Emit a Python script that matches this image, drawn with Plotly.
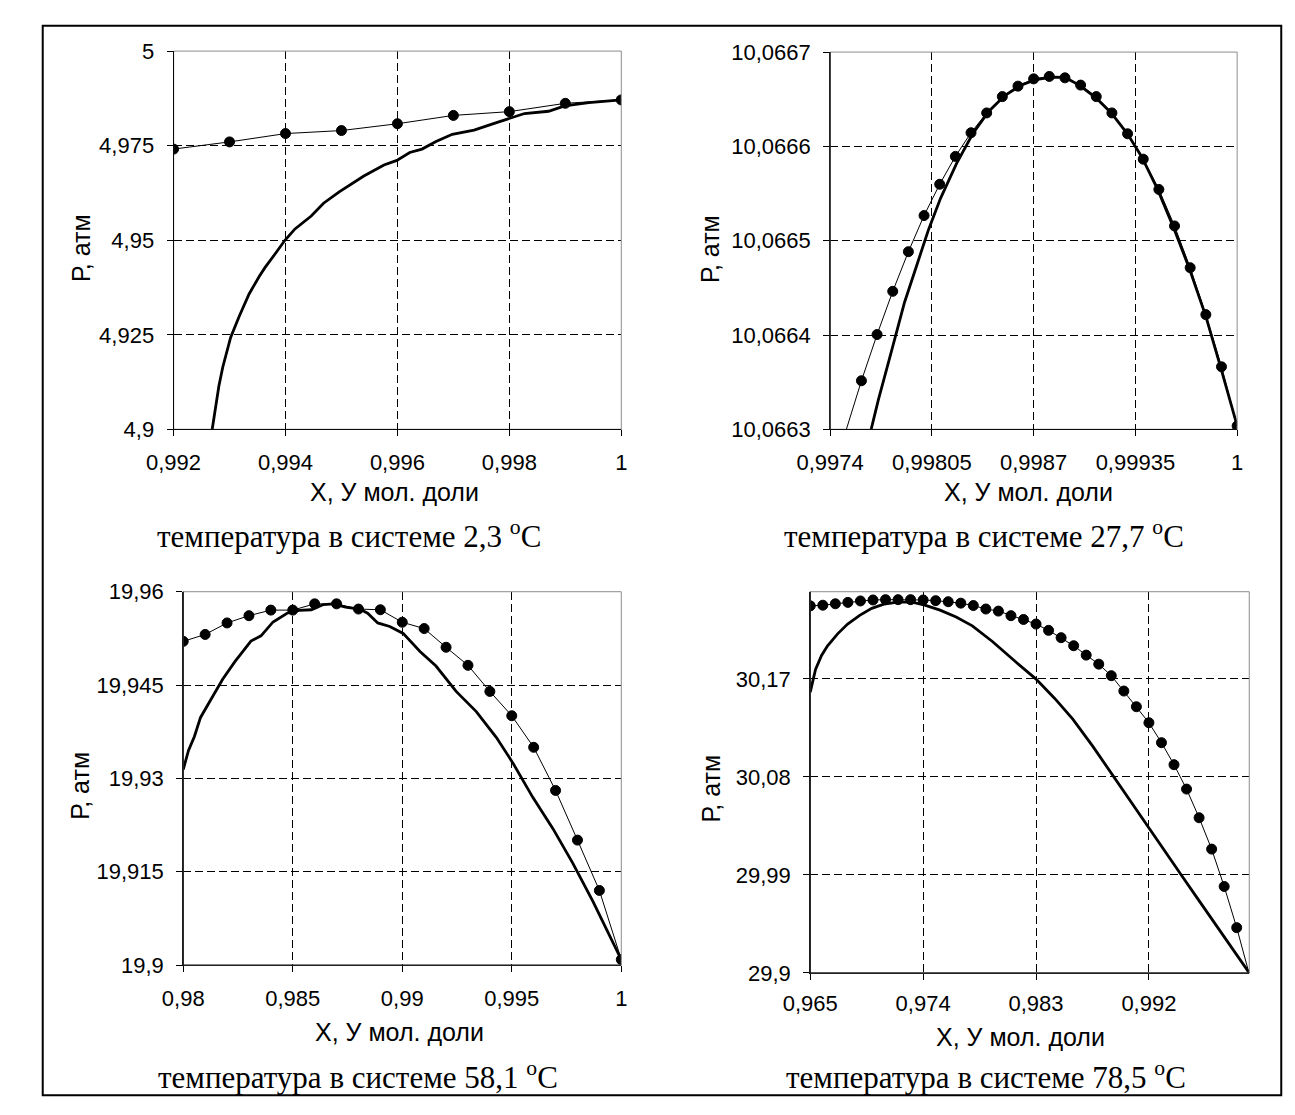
import plotly.graph_objects as go

W, H = 1295, 1115

# ---------------- data ----------------
# Panel 1: 2,3 °C
p1_mark_x = [0.992, 0.993, 0.994, 0.995, 0.996, 0.997, 0.998, 0.999, 1.0]
p1_mark_y = [4.9741, 4.9760, 4.9782, 4.9790, 4.9808, 4.9830, 4.9840, 4.9862, 4.9871]
p1_curve_x = [0.99269, 0.99281, 0.99288, 0.99302, 0.99317, 0.99335, 0.99353, 0.99363,
              0.99381, 0.99399, 0.99417, 0.99446, 0.99468, 0.99496, 0.99540, 0.99576,
              0.99599, 0.99622, 0.99644, 0.99669, 0.99698, 0.99737, 0.99773, 0.99800,
              0.99827, 0.99870, 0.99899, 0.99942, 1.0]
p1_curve_y = [4.9000, 4.9115, 4.9165, 4.9243, 4.9298, 4.9358, 4.9404, 4.9427,
              4.9463, 4.9500, 4.9530, 4.9564, 4.9598, 4.9628, 4.9670, 4.9699,
              4.9711, 4.9732, 4.9741, 4.9761, 4.9780, 4.9791, 4.9809, 4.9823,
              4.9835, 4.9841, 4.9855, 4.9864, 4.9871]
p1_xticks = [0.992, 0.994, 0.996, 0.998, 1.0]
p1_xlabels = ["0,992", "0,994", "0,996", "0,998", "1"]
p1_yticks = [4.9, 4.925, 4.95, 4.975, 5.0]
p1_ylabels = ["4,9", "4,925", "4,95", "4,975", "5"]

# Panel 2: 27,7 °C
p2_mark_x = [0.9975, 0.9976, 0.9977, 0.9978, 0.9979, 0.9980, 0.9981, 0.9982, 0.9983,
             0.9984, 0.9985, 0.9986, 0.9987, 0.9988, 0.9989, 0.9990, 0.9991, 0.9992,
             0.9993, 0.9994, 0.9995, 0.9996, 0.9997, 0.9998, 0.9999, 1.0]
p2_mark_y = [10.0662980, 10.0663516, 10.0664006, 10.0664464, 10.0664884, 10.0665267,
             10.0665599, 10.0665894, 10.0666145, 10.0666355, 10.0666528, 10.0666639,
             10.0666716, 10.0666742, 10.0666727, 10.0666650, 10.0666528, 10.0666355,
             10.0666134, 10.0665865, 10.0665544, 10.0665157, 10.0664714, 10.0664217,
             10.0663664, 10.0663037]
p2_curve_x = [0.997662, 0.997708, 0.997798, 0.997875, 0.997952, 0.998029, 0.998106,
              0.998208, 0.998311, 0.998414, 0.998516, 0.998619, 0.998722, 0.998824,
              0.998901, 0.998991, 0.999094, 0.999196, 0.999299, 0.999389, 0.999492,
              0.999594, 0.999697, 0.999800, 0.999897, 1.0]
p2_curve_y = [10.0663000, 10.0663313, 10.0663866, 10.0664346, 10.0664733, 10.0665120,
              10.0665452, 10.0665820, 10.0666134, 10.0666373, 10.0666539, 10.0666650,
              10.0666712, 10.0666735, 10.0666731, 10.0666650, 10.0666521, 10.0666355,
              10.0666134, 10.0665894, 10.0665544, 10.0665138, 10.0664696, 10.0664198,
              10.0663645, 10.0663037]
p2_xticks = [0.9974, 0.99805, 0.9987, 0.99935, 1.0]
p2_xlabels = ["0,9974", "0,99805", "0,9987", "0,99935", "1"]
p2_yticks = [10.0663, 10.0664, 10.0665, 10.0666, 10.0667]
p2_ylabels = ["10,0663", "10,0664", "10,0665", "10,0666", "10,0667"]

# Panel 3: 58,1 °C
p3_mark_x = [0.980, 0.981, 0.982, 0.983, 0.984, 0.985, 0.986, 0.987, 0.988, 0.989, 0.990,
             0.991, 0.992, 0.993, 0.994, 0.995, 0.996, 0.997, 0.998, 0.999, 1.0]
p3_mark_y = [19.95202, 19.95313, 19.95498, 19.95615, 19.95704, 19.95704, 19.95805,
             19.95805, 19.95721, 19.95710, 19.95509, 19.95408, 19.95107, 19.94817,
             19.94398, 19.94007, 19.93500, 19.92807, 19.92009, 19.91200, 19.90089]
p3_curve_x = [0.98000, 0.98024, 0.98051, 0.98079, 0.98125, 0.98180, 0.98235, 0.98309,
              0.98355, 0.98410, 0.98474, 0.98529, 0.98585, 0.98640, 0.98686, 0.98741,
              0.98805, 0.98842, 0.98888, 0.98943, 0.99004, 0.99081, 0.99154, 0.99246,
              0.99338, 0.99430, 0.99504, 0.99596, 0.99688, 0.99779, 0.99871, 1.0]
p3_curve_y = [19.93142, 19.93449, 19.93673, 19.93980, 19.94259, 19.94593, 19.94873,
              19.95207, 19.95291, 19.95514, 19.95654, 19.95699, 19.95710, 19.95793,
              19.95805, 19.95754, 19.95721, 19.95654, 19.95498, 19.95442, 19.95330,
              19.95040, 19.94806, 19.94398, 19.94074, 19.93656, 19.93254, 19.92696,
              19.92193, 19.91635, 19.91021, 19.90089]
p3_xticks = [0.98, 0.985, 0.99, 0.995, 1.0]
p3_xlabels = ["0,98", "0,985", "0,99", "0,995", "1"]
p3_yticks = [19.9, 19.915, 19.93, 19.945, 19.96]
p3_ylabels = ["19,9", "19,915", "19,93", "19,945", "19,96"]

# Panel 4: 78,5 °C
p4_mark_x = [0.965, 0.966, 0.967, 0.968, 0.969, 0.970, 0.971, 0.972, 0.973, 0.974,
             0.975, 0.976, 0.977, 0.978, 0.979, 0.980, 0.981, 0.982, 0.983, 0.984,
             0.985, 0.986, 0.987, 0.988, 0.989, 0.990, 0.991, 0.992, 0.993, 0.994,
             0.995, 0.996, 0.997, 0.998, 0.999, 1.0]
p4_mark_y = [30.2370, 30.2376, 30.2389, 30.2402, 30.2415, 30.2424, 30.2427, 30.2427,
             30.2427, 30.2424, 30.2418, 30.2408, 30.2395, 30.2373, 30.2341, 30.2322,
             30.2280, 30.2245, 30.2203, 30.2145, 30.2078, 30.2004, 30.1918, 30.1835,
             30.1729, 30.1588, 30.1444, 30.1297, 30.1114, 30.0912, 30.0688, 30.0425,
             30.0137, 29.9794, 29.9416, 29.8990]
p4_curve_x = [0.96500, 0.96542, 0.96590, 0.96638, 0.96718, 0.96798, 0.96894, 0.96990,
              0.97087, 0.97199, 0.97311, 0.97407, 0.97535, 0.97663, 0.97792, 0.97952,
              0.98144, 0.98298, 0.98449, 0.98593, 0.98753, 0.98913, 0.99074, 0.99202,
              0.99330, 0.99458, 0.99587, 0.99715, 1.0]
p4_curve_y = [30.1578, 30.1787, 30.1915, 30.2004, 30.2113, 30.2203, 30.2283, 30.2347,
              30.2386, 30.2405, 30.2405, 30.2379, 30.2331, 30.2267, 30.2187, 30.2043,
              30.1850, 30.1700, 30.1520, 30.1330, 30.1080, 30.0810, 30.0540, 30.0325,
              30.0110, 29.9900, 29.9685, 29.9470, 29.9000]
p4_xticks = [0.965, 0.974, 0.983, 0.992]
p4_xlabels = ["0,965", "0,974", "0,983", "0,992"]
p4_yticks = [29.9, 29.99, 30.08, 30.17]
p4_ylabels = ["29,9", "29,99", "30,08", "30,17"]

x_title = "X, У мол. доли"
y_title = "Р, атм"
captions = ["температура в системе 2,3 <sup>o</sup>C",
            "температура в системе 27,7 <sup>o</sup>C",
            "температура в системе 58,1 <sup>o</sup>C",
            "температура в системе 78,5 <sup>o</sup>C"]

panels = [
    dict(mx=p1_mark_x, my=p1_mark_y, cx=p1_curve_x, cy=p1_curve_y,
         xr=[0.992, 1.0], yr=[4.9, 5.0], xt=p1_xticks, xl=p1_xlabels, yt=p1_yticks, yl=p1_ylabels),
    dict(mx=p2_mark_x, my=p2_mark_y, cx=p2_curve_x, cy=p2_curve_y,
         xr=[0.9974, 1.0], yr=[10.0663, 10.0667], xt=p2_xticks, xl=p2_xlabels, yt=p2_yticks, yl=p2_ylabels),
    dict(mx=p3_mark_x, my=p3_mark_y, cx=p3_curve_x, cy=p3_curve_y,
         xr=[0.98, 1.0], yr=[19.9, 19.96], xt=p3_xticks, xl=p3_xlabels, yt=p3_yticks, yl=p3_ylabels),
    dict(mx=p4_mark_x, my=p4_mark_y, cx=p4_curve_x, cy=p4_curve_y,
         xr=[0.965, 1.0], yr=[29.9, 30.25], xt=p4_xticks, xl=p4_xlabels, yt=p4_yticks, yl=p4_ylabels),
]

# ---------------- layout (pixel boxes of plot areas) ----------------
boxes = [(144, 40, 606, 427), (821.5, 41, 1241.5, 427),
         (154, 593, 606, 975), (801, 593, 1254, 983)]
ytitle_pos = [(48, 242), (697, 242), (48, 792), (699, 794)]
xtitle_pos = [(372, 491), (1026, 491), (377, 1043), (1018, 1048)]
caption_pos = [(325, 534), (980, 534), (334, 1088), (982, 1088)]
xstandoff = [7, 7, 7, 5]


def px(x):
    return x / W


def py(y):
    return 1 - y / H


fig = go.Figure()
layout = dict(width=W, height=H, autosize=False,
              margin=dict(l=0, r=0, t=0, b=0),
              paper_bgcolor="white", plot_bgcolor="white",
              showlegend=False, shapes=[], annotations=[])

tickfont = dict(family="Liberation Sans, Arial, sans-serif", size=22, color="black")
titlefont = dict(family="Liberation Sans, Arial, sans-serif", size=25, color="black")
capfont = dict(family="Liberation Serif, Times New Roman, serif", size=31, color="black")

for i, (p, b) in enumerate(zip(panels, boxes)):
    n = i + 1
    xa = "x" if n == 1 else f"x{n}"
    ya = "y" if n == 1 else f"y{n}"
    x0, y0, x1, y1 = b
    common = dict(showgrid=True, gridcolor="black", griddash="8px,4px", gridwidth=1,
                  showline=True, linecolor="black", linewidth=1,
                  ticks="outside", ticklen=6, tickwidth=1, tickcolor="black",
                  tickfont=tickfont, zeroline=False, fixedrange=True)
    layout[f"xaxis{'' if n == 1 else n}"] = dict(
        domain=[px(x0), px(x1)], range=p["xr"], anchor=ya,
        tickmode="array", tickvals=p["xt"], ticktext=p["xl"],
        ticklabelstandoff=xstandoff[i], **common)
    layout[f"yaxis{'' if n == 1 else n}"] = dict(
        domain=[py(y1), py(y0)], range=p["yr"], anchor=xa,
        tickmode="array", tickvals=p["yt"], ticktext=p["yl"],
        ticklabelstandoff=8, **common)

    sizes = [10 if p["yr"][0] <= v <= p["yr"][1] else 0 for v in p["my"]]
    lw = [1 if s > 0 else 0 for s in sizes]
    fig.add_trace(go.Scatter(x=p["mx"], y=p["my"], mode="lines+markers", xaxis=xa, yaxis=ya,
                             line=dict(color="black", width=1),
                             marker=dict(color="black", size=sizes, opacity=1,
                                         line=dict(color="black", width=lw)),
                             hoverinfo="skip"))
    fig.add_trace(go.Scatter(x=p["cx"], y=p["cy"], mode="lines", xaxis=xa, yaxis=ya,
                             line=dict(color="black", width=2.8), hoverinfo="skip"))

    # gray plot-area border
    layout["shapes"].append(dict(type="rect", xref=f"{xa} domain", yref=f"{ya} domain",
                                 x0=0, x1=1, y0=0, y1=1, layer="above",
                                 line=dict(color="#8c8c8c", width=1)))
    # black axis lines over the gray border (left and bottom)
    layout["shapes"].append(dict(type="line", xref=f"{xa} domain", yref=f"{ya} domain",
                                 x0=0, x1=0, y0=0, y1=1, layer="above",
                                 line=dict(color="black", width=1)))
    layout["shapes"].append(dict(type="line", xref=f"{xa} domain", yref=f"{ya} domain",
                                 x0=0, x1=1, y0=0, y1=0, layer="above",
                                 line=dict(color="black", width=1)))

    tx, ty = ytitle_pos[i]
    layout["annotations"].append(dict(text=y_title, x=px(tx), y=py(ty), xref="paper", yref="paper",
                                      textangle=-90, showarrow=False, font=titlefont,
                                      xanchor="center", yanchor="middle"))
    tx, ty = xtitle_pos[i]
    layout["annotations"].append(dict(text=x_title, x=px(tx), y=py(ty), xref="paper", yref="paper",
                                      showarrow=False, font=titlefont,
                                      xanchor="center", yanchor="middle"))
    tx, ty = caption_pos[i]
    layout["annotations"].append(dict(text=captions[i], x=px(tx), y=py(ty), xref="paper", yref="paper",
                                      showarrow=False, font=capfont,
                                      xanchor="center", yanchor="middle"))

# outer frame
layout["shapes"].append(dict(type="rect", xref="paper", yref="paper",
                             x0=px(9), x1=px(1287), y0=py(1108), y1=py(14),
                             line=dict(color="black", width=2)))

fig.update_layout(**layout)
fig.write_html("out.html", config={"displayModeBar": False},
               post_script="document.body.style.margin='0';document.body.style.overflow='hidden';")
